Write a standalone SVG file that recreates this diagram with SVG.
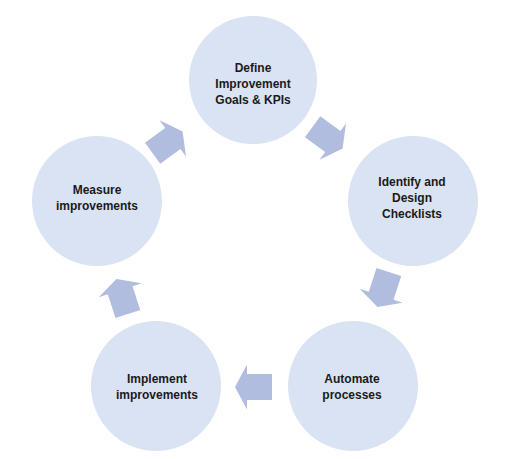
<svg xmlns="http://www.w3.org/2000/svg" width="524" height="459" viewBox="0 0 524 459">
<style>
.node{fill:#dae3f3;}
.lbl{font-family:"Liberation Sans",Arial,sans-serif;font-weight:bold;font-size:12px;fill:#1a1a1a;text-anchor:middle;}
.arr{fill:#b1bddf;}
</style>
<defs>
<polygon id="ar" points="-19,-13 6,-13 6,-22.5 18,0 6,22.5 6,13 -19,13"/>
</defs>
<rect width="524" height="459" fill="#ffffff"/>
<g id="connectors">
<use href="#ar" class="arr" transform="translate(328,138) rotate(36)"/>
<use href="#ar" class="arr" transform="translate(383,290) rotate(108)"/>
<use href="#ar" class="arr" transform="translate(253,387) rotate(180)"/>
<use href="#ar" class="arr" transform="translate(122,296) rotate(252)"/>
<use href="#ar" class="arr" transform="translate(168,142) rotate(324)"/>
</g>
<g id="define">
<circle class="node" cx="253" cy="80" r="64"/>
<text class="lbl" x="253" y="72">Define</text>
<text class="lbl" x="253" y="88">Improvement</text>
<text class="lbl" x="253" y="104">Goals &amp; KPIs</text>
</g>
<g id="identify">
<circle class="node" cx="413" cy="201" r="65"/>
<text class="lbl" x="412" y="186">Identify and</text>
<text class="lbl" x="412" y="202">Design</text>
<text class="lbl" x="412" y="218">Checklists</text>
</g>
<g id="automate">
<circle class="node" cx="353" cy="386" r="65"/>
<text class="lbl" x="352" y="383">Automate</text>
<text class="lbl" x="352" y="399">processes</text>
</g>
<g id="implement">
<circle class="node" cx="156" cy="386" r="65"/>
<text class="lbl" x="157" y="383">Implement</text>
<text class="lbl" x="157" y="399">improvements</text>
</g>
<g id="measure">
<circle class="node" cx="97" cy="201" r="65"/>
<text class="lbl" x="97" y="194">Measure</text>
<text class="lbl" x="97" y="210">improvements</text>
</g>
</svg>
